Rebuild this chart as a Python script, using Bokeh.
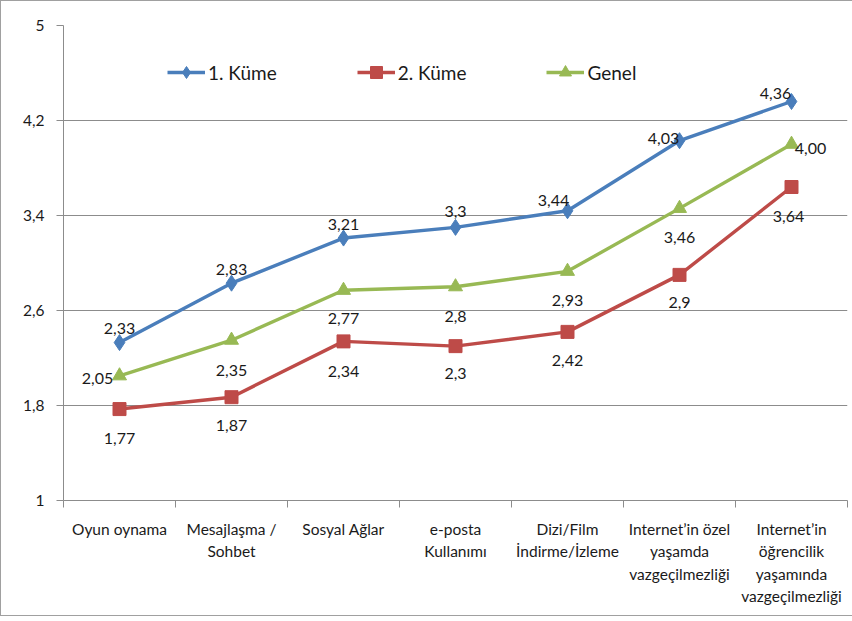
from bokeh.plotting import figure
from bokeh.models import ColumnDataSource, FixedTicker, CustomJSTickFormatter, Legend
from bokeh.embed import file_html
from bokeh.resources import INLINE
from bokeh.core.properties import value

categories = ["Oyun oynama", "Mesajlaşma /\nSohbet", "Sosyal Ağlar", "e-posta\nKullanımı",
              "Dizi/Film\nİndirme/İzleme", "Internet’in özel\nyaşamda\nvazgeçilmezliği",
              "Internet’in\nöğrencilik\nyaşamında\nvazgeçilmezliği"]
kume1 = [2.33, 2.83, 3.21, 3.3, 3.44, 4.03, 4.36]
kume1_labels = ["2,33", "2,83", "3,21", "3,3", "3,44", "4,03", "4,36"]
kume2 = [1.77, 1.87, 2.34, 2.3, 2.42, 2.9, 3.64]
kume2_labels = ["1,77", "1,87", "2,34", "2,3", "2,42", "2,9", "3,64"]
genel = [2.05, 2.35, 2.77, 2.8, 2.93, 3.46, 4.00]
genel_labels = ["2,05", "2,35", "2,77", "2,8", "2,93", "3,46", "4,00"]
y_ticks = [1, 1.8, 2.6, 3.4, 4.2, 5]

# label placement (screen px offsets), styling only
k1_dx = [0, 0, 0, 0, -14, -16, -16]
k1_dy = [-14, -14, -14, -16, -10, -2, -8]
k2_dx = [0, 0, 0, 0, 0, 0, -3]
k2_dy = [29, 28, 30, 27, 29, 28, 29]
g_dx = [-22, 0, 0, 0, 0, 0, 19]
g_dy = [3, 30, 28, 30, 29, 29, 4]

xs = list(range(1, len(categories) + 1))
FONT = "Lato"
TXT = "#1a1a1a"
GRID = "#8c8c8c"

p = figure(frame_width=784, frame_height=475, x_range=(0.5, len(categories) + 0.5), y_range=(1, 5),
           min_border_left=62, min_border_right=5, min_border_top=24, min_border_bottom=115,
           output_backend="svg", toolbar_location=None)
p.styles = {"border-left": "1px solid #a0a0a0", "border-bottom": "1px solid #a0a0a0",
            "border-top": "1px solid #a0a0a0"}
p.outline_line_color = None
p.xgrid.visible = False
p.ygrid.grid_line_color = GRID
p.ygrid.grid_line_width = 1

ya = p.yaxis[0]
ya.ticker = FixedTicker(ticks=y_ticks)
ya.formatter = CustomJSTickFormatter(code="return (Math.round(tick*10)/10).toString().replace('.', ',');")
ya.axis_line_color = GRID
ya.major_tick_line_color = GRID
ya.major_tick_in = 0
ya.major_tick_out = 7
ya.minor_tick_line_color = None
ya.major_label_standoff = 12
ya.major_label_text_font = FONT
ya.major_label_text_font_size = "15.5px"
ya.major_label_text_color = TXT

xa = p.xaxis[0]
xa.ticker = FixedTicker(ticks=xs, minor_ticks=[x - 0.5 for x in xs] + [xs[-1] + 0.5])
xa.major_label_overrides = {x: c for x, c in zip(xs, categories)}
xa.axis_line_color = GRID
xa.major_tick_in = 0
xa.major_tick_out = 0
xa.minor_tick_in = 0
xa.minor_tick_out = 7
xa.minor_tick_line_color = GRID
xa.major_label_standoff = 12
xa.major_label_text_font = FONT
xa.major_label_text_font_size = "15.5px"
xa.major_label_text_color = TXT
xa.major_label_text_line_height = 1.25

BLUE = "#4A7EBB"
RED = "#BE4B48"
GREEN = "#98B954"

series = [
    ("1. Küme", kume1, kume1_labels, k1_dx, k1_dy, BLUE, "diamond", 16),
    ("2. Küme", kume2, kume2_labels, k2_dx, k2_dy, RED, "square", 13),
    ("Genel", genel, genel_labels, g_dx, g_dy, GREEN, "triangle", 14),
]
legend_items = []
for name, vals, labs, dx, dy, col, mk, sz in series:
    src = ColumnDataSource(dict(x=xs, y=vals, lab=labs, dx=dx, dy=dy))
    r1 = p.line("x", "y", source=src, line_color=col, line_width=3.4)
    r2 = p.scatter("x", "y", source=src, marker=mk, size=sz, fill_color=col, line_color=col)
    legend_items.append((name, [r1, r2]))
    p.text("x", "y", text="lab", source=src, x_offset="dx", y_offset="dy",
           text_align="center", text_baseline="middle", text_font=value(FONT),
           text_font_size="16px", text_color=TXT)

legend = Legend(items=legend_items, orientation="horizontal", location=(104, 413),
                border_line_color=None, background_fill_alpha=0, padding=0, margin=0,
                spacing=80, glyph_width=38, glyph_height=30, label_height=30,
                label_standoff=3, label_text_font=FONT, label_text_font_size="19px",
                label_text_color=TXT)
p.add_layout(legend)

open("out.html", "w").write(file_html(p, INLINE))
